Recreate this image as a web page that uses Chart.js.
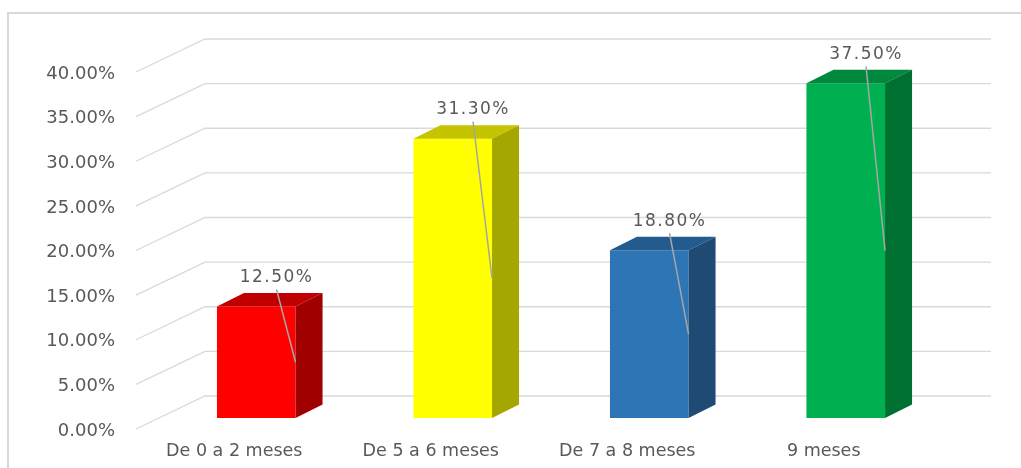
<!DOCTYPE html>
<html>
<head>
<meta charset="utf-8">
<script src="https://cdn.jsdelivr.net/npm/chart.js@4"></script>
<style>
  body { margin: 0; background: #fff; }
  canvas { display: block; }
</style>
</head>
<body>
<canvas id="chart" width="1021" height="468"></canvas>
<script>
// data
const categories = ['De 0 a 2 meses', 'De 5 a 6 meses', 'De 7 a 8 meses', '9 meses'];
const values = [12.5, 31.3, 18.8, 37.5];
const yTicks = [0, 5, 10, 15, 20, 25, 30, 35, 40];

// colours per bar: front, top, side
const frontColors = ['#FF0000', '#FFFF00', '#2E75B6', '#00B050'];
const topColors = ['#C00000', '#C4C400', '#245B8E', '#00883E'];
const sideColors = ['#A00000', '#A6A600', '#1E4A74', '#007030'];

const textColor = '#595959';
const gridColor = '#d9d9d9';

// 3d offsets (pixels) relative to the plane of the bar fronts
const FRONT = { dx: -22, dy: 11 };
const BACK = { dx: 47, dy: -22 };
const DEPTH = { dx: 27, dy: -13.5 };

const pct = v => Number(v).toFixed(2) + '%';

const wall = {
    id: 'wall',
    beforeDatasetsDraw(chart) {
        const { ctx, chartArea, scales } = chart;
        const y = scales.y;
        ctx.save();
        // outer frame (only top + left visible)
        ctx.strokeStyle = gridColor;
        ctx.lineWidth = 2;
        ctx.beginPath();
        ctx.moveTo(1021, 13);
        ctx.lineTo(8, 13);
        ctx.lineTo(8, 468);
        ctx.stroke();

        // slanted gridlines
        ctx.lineWidth = 1.3;
        yTicks.forEach(v => {
            const py = y.getPixelForValue(v);
            ctx.beginPath();
            ctx.moveTo(chartArea.left + FRONT.dx, py + FRONT.dy);
            ctx.lineTo(chartArea.left + BACK.dx, py + BACK.dy);
            ctx.lineTo(chartArea.right + BACK.dx, py + BACK.dy);
            ctx.stroke();
        });
        ctx.restore();
    },
    afterDatasetsDraw(chart) {
        const { ctx } = chart;
        const meta = chart.getDatasetMeta(0);
        ctx.save();
        meta.data.forEach((bar, i) => {
            const p = bar.getProps(['x', 'y', 'base', 'width'], true);
            const l = p.x - p.width / 2, r = p.x + p.width / 2;
            const t = p.y, b = p.base;
            // top face
            ctx.fillStyle = topColors[i];
            ctx.beginPath();
            ctx.moveTo(l, t);
            ctx.lineTo(l + DEPTH.dx, t + DEPTH.dy);
            ctx.lineTo(r + DEPTH.dx, t + DEPTH.dy);
            ctx.lineTo(r, t);
            ctx.closePath();
            ctx.fill();
            // side face
            ctx.fillStyle = sideColors[i];
            ctx.beginPath();
            ctx.moveTo(r, t);
            ctx.lineTo(r + DEPTH.dx, t + DEPTH.dy);
            ctx.lineTo(r + DEPTH.dx, b + DEPTH.dy);
            ctx.lineTo(r, b);
            ctx.closePath();
            ctx.fill();

            // data label + leader line
            const cx = r - 19, cy = t - 29;
            ctx.strokeStyle = '#a6a6a6';
            ctx.lineWidth = 1.5;
            ctx.beginPath();
            ctx.moveTo(cx, cy + 12);
            ctx.lineTo(r, (t + b) / 2);
            ctx.stroke();

            ctx.fillStyle = textColor;
            ctx.font = '17px "DejaVu Sans"';
            ctx.letterSpacing = '1.5px';
            ctx.textAlign = 'center';
            ctx.textBaseline = 'middle';
            ctx.fillText(pct(values[i]), cx, cy);
        });
        ctx.restore();
    }
};

new Chart(document.getElementById('chart'), {
    type: 'bar',
    data: {
        labels: categories,
        datasets: [{
            data: values,
            backgroundColor: frontColors,
            borderWidth: 0,
            categoryPercentage: 1,
            barPercentage: 0.4
        }]
    },
    options: {
        responsive: false,
        devicePixelRatio: 1,
        animation: false,
        events: [],
        layout: { padding: { top: 61, right: 77, left: 0, bottom: 0 } },
        plugins: {
            legend: { display: false },
            tooltip: { enabled: false },
            title: { display: false }
        },
        scales: {
            y: {
                min: 0,
                max: 40,
                afterBuildTicks: s => { s.ticks = yTicks.map(v => ({ value: v })); },
                afterFit: s => {
                    s.width = 158;
                    s.paddingTop = 0;
                    s.paddingBottom = 0;
                },
                grid: { display: false, drawTicks: false },
                border: { display: false },
                ticks: {
                    callback: v => pct(v),
                    color: textColor,
                    font: { family: 'DejaVu Sans', size: 18 },
                    padding: 43,
                    labelOffset: 13
                }
            },
            x: {
                afterFit: s => {
                    s.height = 50;
                    s.paddingLeft = 0;
                    s.paddingRight = 0;
                },
                grid: { display: false, drawTicks: false },
                border: { display: false },
                ticks: {
                    color: textColor,
                    font: { family: 'DejaVu Sans', size: 17.5 },
                    padding: 23,
                    labelOffset: FRONT.dx,
                    maxRotation: 0,
                    autoSkip: false
                }
            }
        }
    },
    plugins: [wall]
});
</script>
</body>
</html>
